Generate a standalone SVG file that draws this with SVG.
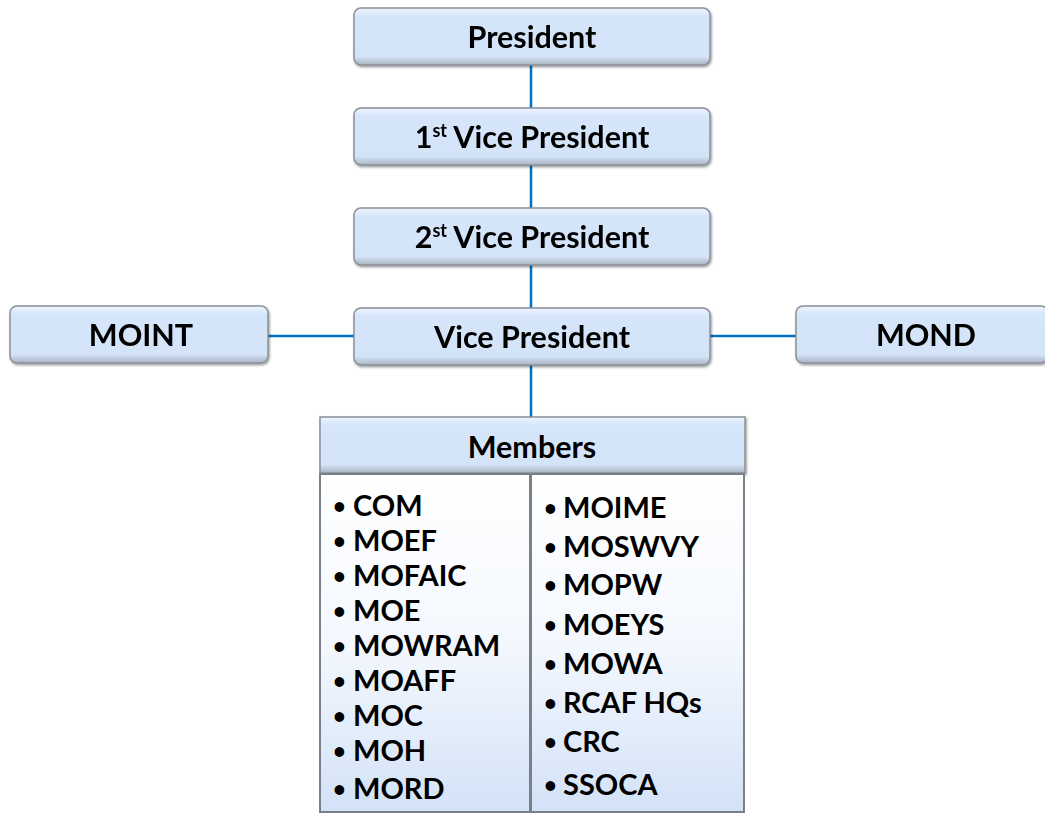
<svg xmlns="http://www.w3.org/2000/svg" width="1045" height="814" viewBox="0 0 1045 814">
<style>
.t{font-family:Lato,"Open Sans","Liberation Sans",sans-serif;font-weight:bold;fill:#000;}
.h{font-size:30.5px;text-anchor:middle;}
.li{font-size:29px;}
.bu{font-size:22px;}
.box{fill:url(#bg);stroke:#8a9098;stroke-width:1.5;}
.conn{stroke:#0070C0;stroke-width:2.5;fill:none;}
</style>
<defs>
<linearGradient id="bg" x1="0" y1="0" x2="0" y2="1">
<stop offset="0" stop-color="#eef5fe"/>
<stop offset="0.15" stop-color="#d5e5fa"/>
<stop offset="0.85" stop-color="#d3e3f8"/>
<stop offset="1" stop-color="#aab4c2"/>
</linearGradient>
<linearGradient id="panel" x1="0" y1="0" x2="0" y2="1">
<stop offset="0" stop-color="#ffffff"/>
<stop offset="0.5" stop-color="#f4f8fe"/>
<stop offset="1" stop-color="#d3e2f7"/>
</linearGradient>
<filter id="sh" x="-5%" y="-10%" width="110%" height="130%">
<feDropShadow dx="1" dy="1.5" stdDeviation="1.2" flood-color="#000" flood-opacity="0.4"/>
</filter>
</defs>
<g id="connectors">
<line class="conn" x1="531" y1="65" x2="531" y2="108"/>
<line class="conn" x1="531" y1="165" x2="531" y2="208"/>
<line class="conn" x1="531" y1="265" x2="531" y2="308"/>
<line class="conn" x1="531" y1="365" x2="531" y2="417"/>
<line class="conn" x1="268" y1="336" x2="354" y2="336"/>
<line class="conn" x1="709" y1="336" x2="796" y2="336"/>
</g>
<g id="president" filter="url(#sh)">
<rect class="box" x="354" y="8" width="356" height="57" rx="7"/>
<text class="t h" x="532" y="48">President</text>
</g>
<g id="vp1" filter="url(#sh)">
<rect class="box" x="354" y="108" width="356" height="57" rx="7"/>
<text class="t h" x="532" y="148">1<tspan font-size="18" dy="-11">st</tspan><tspan dy="11"> Vice President</tspan></text>
</g>
<g id="vp2" filter="url(#sh)">
<rect class="box" x="354" y="208" width="356" height="57" rx="7"/>
<text class="t h" x="532" y="248">2<tspan font-size="18" dy="-11">st</tspan><tspan dy="11"> Vice President</tspan></text>
</g>
<g id="vp" filter="url(#sh)">
<rect class="box" x="354" y="308" width="356" height="57" rx="7"/>
<text class="t h" x="532" y="348">Vice President</text>
</g>
<g id="moint" filter="url(#sh)">
<rect class="box" x="10" y="306" width="258" height="57" rx="7"/>
<text class="t h" x="141" y="346">MOINT</text>
</g>
<g id="mond" filter="url(#sh)">
<rect class="box" x="796" y="306" width="252" height="57" rx="7"/>
<text class="t h" x="926" y="346">MOND</text>
</g>
<g id="members">
<rect x="320" y="417" width="425" height="56" fill="url(#bg)" stroke="#8a9098" stroke-width="1.5" filter="url(#sh)"/>
<text class="t h" x="532" y="458">Members</text>
<rect x="320" y="474" width="210" height="338" fill="url(#panel)" stroke="#7a8088" stroke-width="2"/>
<rect x="531" y="474" width="213" height="338" fill="url(#panel)" stroke="#7a8088" stroke-width="2"/>
<g class="t bu">
<text x="333" y="514">•</text>
<text x="333" y="549">•</text>
<text x="333" y="584">•</text>
<text x="333" y="619">•</text>
<text x="333" y="654">•</text>
<text x="333" y="689">•</text>
<text x="333" y="724">•</text>
<text x="333" y="759">•</text>
<text x="333" y="797">•</text>
<text x="544" y="516">•</text>
<text x="544" y="555">•</text>
<text x="544" y="593">•</text>
<text x="544" y="633">•</text>
<text x="544" y="672">•</text>
<text x="544" y="711">•</text>
<text x="544" y="750">•</text>
<text x="544" y="793">•</text>
</g>
<g class="t li">
<text x="353" y="516">COM</text>
<text x="353" y="551">MOEF</text>
<text x="353" y="586">MOFAIC</text>
<text x="353" y="621">MOE</text>
<text x="353" y="656">MOWRAM</text>
<text x="353" y="691">MOAFF</text>
<text x="353" y="726">MOC</text>
<text x="353" y="761">MOH</text>
<text x="353" y="799">MORD</text>
<text x="563" y="518">MOIME</text>
<text x="563" y="557">MOSWVY</text>
<text x="563" y="595">MOPW</text>
<text x="563" y="635">MOEYS</text>
<text x="563" y="674">MOWA</text>
<text x="563" y="713">RCAF HQs</text>
<text x="563" y="752">CRC</text>
<text x="563" y="795">SSOCA</text>
</g>
</g>
</svg>
